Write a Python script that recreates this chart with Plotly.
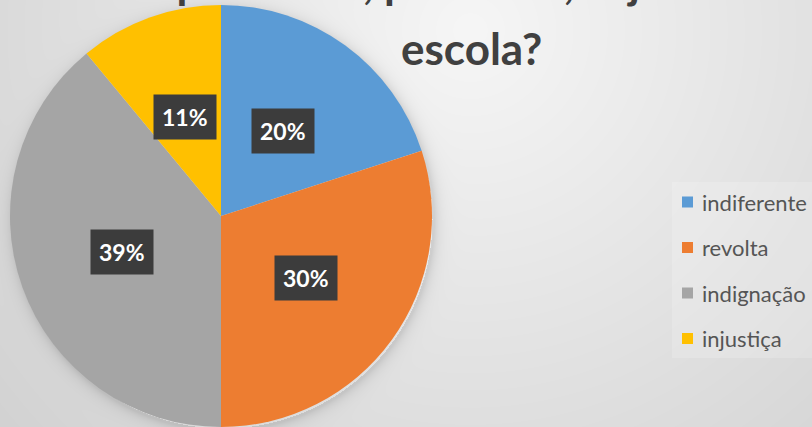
import base64
import struct
import zlib
import math

import numpy as np
import plotly.graph_objects as go

# ---------------- data ----------------
labels = ["indiferente", "revolta", "indignação", "injustiça"]
values = [20, 30, 39, 11]
colors = ["#5B9BD5", "#ED7D31", "#A5A5A5", "#FFC000"]
title_line1 = "depredando, pichando, sujando a"
title_line2 = "escola?"

# ---------------- layout constants ----------------
W, H = 812, 427
CX, CY_TOP, R = 221, 216, 211          # pie centre (px from left/top) and radius
FONT = "Lato"


def gray_png(arr):
    h, w = arr.shape
    raw = b"".join(b"\x00" + arr[i].astype(np.uint8).tobytes() for i in range(h))

    def chunk(tag, data):
        c = struct.pack(">I", len(data)) + tag + data
        return c + struct.pack(">I", zlib.crc32(tag + data) & 0xFFFFFFFF)

    png = b"\x89PNG\r\n\x1a\n"
    png += chunk(b"IHDR", struct.pack(">IIBBBBB", w, h, 8, 0, 0, 0, 0))
    png += chunk(b"IDAT", zlib.compress(raw, 9))
    png += chunk(b"IEND", b"")
    return "data:image/png;base64," + base64.b64encode(png).decode()


# background: soft radial gradient + pie drop shadow
yy, xx = np.mgrid[0:H, 0:W].astype(float)
d = np.hypot(xx - 470, yy - 30)
bg = 246 - 28 * (d / 480)
dp = np.hypot(xx - (CX + 2), yy - (CY_TOP + 3))
outside = np.clip(dp - R, 0, None)
bg -= 26 * np.exp(-outside / 6.0) * (dp > R - 2)
bg = np.clip(bg, 0, 255)
bg_src = gray_png(bg)

fig = go.Figure()

fig.add_trace(go.Pie(
    labels=labels,
    values=values,
    marker=dict(colors=colors, line=dict(width=0)),
    sort=False,
    direction="clockwise",
    rotation=0,
    textinfo="none",
    hoverinfo="label+percent",
    showlegend=False,
    domain=dict(x=[(CX - R) / W, (CX + R) / W], y=[0, (2 * R) / H]),
))

annotations = []
# percentage labels in dark boxes, positioned from the data
total = sum(values)
cum = 0
for v in values:
    mid = (cum + v / 2) / total * 2 * math.pi
    cum += v
    px = CX + 0.5 * R * math.sin(mid)
    py = CY_TOP - 0.5 * R * math.cos(mid)
    annotations.append(dict(
        x=px / W, y=1 - py / H, xref="paper", yref="paper",
        text=f"<b>{round(v / total * 100)}%</b>", showarrow=False,
        font=dict(family=FONT, size=23, color="white"),
        bgcolor="#3c3c3c", borderpad=8,
        xanchor="center", yanchor="middle",
    ))

# title (partly cut off at top, as in the reference)
annotations.append(dict(
    x=449 / W, y=1 - 10 / H, xref="paper", yref="paper",
    text=f"<b>{title_line1}</b>", showarrow=False,
    font=dict(family=FONT, size=44, color="#404040"),
    xanchor="center", yanchor="bottom",
))
annotations.append(dict(
    x=472 / W, y=1 - 48 / H, xref="paper", yref="paper",
    text=f"<b>{title_line2}</b>", showarrow=False,
    font=dict(family=FONT, size=44, color="#404040"),
    xanchor="center", yanchor="middle",
))

# legend (manual, to match spacing)
shapes = [dict(type="rect", xref="paper", yref="paper",
               x0=672 / W, x1=1, y0=1 - 358 / H, y1=1 - 182 / H,
               fillcolor="rgba(255,255,255,0.18)", line=dict(width=0), layer="below")]
for i, (lab, col) in enumerate(zip(labels, colors)):
    yc = 202 + i * 45.5
    shapes.append(dict(type="rect", xref="paper", yref="paper",
                       x0=682 / W, x1=693 / W, y0=1 - (yc + 5.5) / H, y1=1 - (yc - 5.5) / H,
                       fillcolor=col, line=dict(width=0)))
    annotations.append(dict(
        x=700 / W, y=1 - yc / H, xref="paper", yref="paper",
        text=lab, showarrow=False,
        font=dict(family=FONT, size=22, color="#555555"),
        xanchor="left", yanchor="middle",
    ))

fig.update_layout(
    width=W, height=H,
    margin=dict(l=0, r=0, t=0, b=0),
    paper_bgcolor="#e0e0e0",
    plot_bgcolor="rgba(0,0,0,0)",
    images=[dict(source=bg_src, xref="paper", yref="paper", x=0, y=1,
                 sizex=1, sizey=1, xanchor="left", yanchor="top",
                 sizing="stretch", layer="below")],
    shapes=shapes,
    annotations=annotations,
    showlegend=False,
)

fig.write_html("out.html")
